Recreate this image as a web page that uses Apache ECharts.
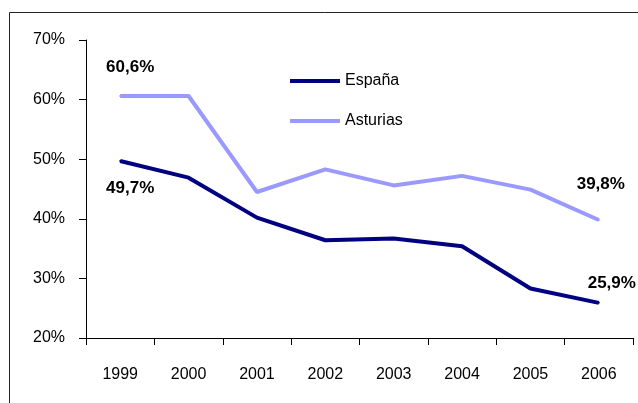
<!DOCTYPE html>
<html>
<head>
  <meta charset="UTF-8">
  <script src="https://cdn.jsdelivr.net/npm/echarts@6/dist/echarts.min.js"></script>
  <style>
    html, body { margin: 0; padding: 0; background: #fff; }
    #chart { width: 638px; height: 403px; }
  </style>
</head>
<body>
<div id="chart"></div>
<script>
  var years = ['1999', '2000', '2001', '2002', '2003', '2004', '2005', '2006'];
  var espana = [49.7, 46.9, 40.2, 36.4, 36.7, 35.4, 28.3, 25.9];
  var asturias = [60.6, 60.6, 44.5, 48.3, 45.6, 47.2, 44.9, 39.8];
  var yTicks = [20, 30, 40, 50, 60, 70];

  // which points carry a value label, and where it sits relative to the point
  var espanaLabels = { 0: [10, 27], 7: [13, -20] };
  var asturiasLabels = { 0: [10, -29], 7: [2, -36] };

  var font = 'Liberation Sans, Arial, sans-serif';

  function fmt(v) {
    return v.toFixed(1).replace('.', ',') + '%';
  }

  function withLabels(values, labels) {
    return values.map(function (v, i) {
      var item = { value: v };
      if (labels[i]) {
        item.label = {
          show: true,
          position: 'inside',
          offset: labels[i],
          formatter: function (p) { return fmt(p.value); },
          color: '#000',
          fontWeight: 'bold',
          fontSize: 17,
          fontFamily: font
        };
      }
      return item;
    });
  }

  var chart = echarts.init(document.getElementById('chart'));
  chart.setOption({
    backgroundColor: '#fff',
    animation: false,
    graphic: [{
      type: 'rect',
      shape: { x: 9.5, y: 12.5, width: 640, height: 400 },
      style: { fill: 'none', stroke: '#222', lineWidth: 1 },
      silent: true
    }],
    grid: { left: 86, right: 5, top: 40, bottom: 65 },
    legend: {
      orient: 'vertical',
      left: 285,
      top: 66,
      itemWidth: 50,
      itemHeight: 4,
      itemGap: 20,
      icon: 'rect',
      textStyle: { color: '#000', fontSize: 16, fontFamily: font, lineHeight: 20 },
      data: ['España', 'Asturias']
    },
    xAxis: {
      type: 'category',
      data: years,
      boundaryGap: true,
      axisLine: { lineStyle: { color: '#000', width: 1 } },
      axisTick: { show: true, length: 7, lineStyle: { color: '#000' } },
      axisLabel: { color: '#000', fontSize: 16, fontFamily: font, margin: 29 },
      splitLine: { show: false }
    },
    yAxis: {
      type: 'value',
      min: yTicks[0],
      max: yTicks[yTicks.length - 1],
      interval: 10,
      axisLine: { show: true, lineStyle: { color: '#000', width: 1 } },
      axisTick: { show: true, length: 7, lineStyle: { color: '#000' } },
      axisLabel: { color: '#000', fontSize: 16, fontFamily: font, margin: 21, formatter: '{value}%' },
      splitLine: { show: false }
    },
    series: [
      {
        name: 'España',
        type: 'line',
        data: withLabels(espana, espanaLabels),
        symbol: 'circle',
        symbolSize: 2,
        lineStyle: { color: '#000080', width: 4 },
        itemStyle: { color: '#000080' },
        z: 3
      },
      {
        name: 'Asturias',
        type: 'line',
        data: withLabels(asturias, asturiasLabels),
        symbol: 'circle',
        symbolSize: 2,
        lineStyle: { color: '#9999ff', width: 4 },
        itemStyle: { color: '#9999ff' },
        z: 2
      }
    ]
  });
</script>
</body>
</html>
